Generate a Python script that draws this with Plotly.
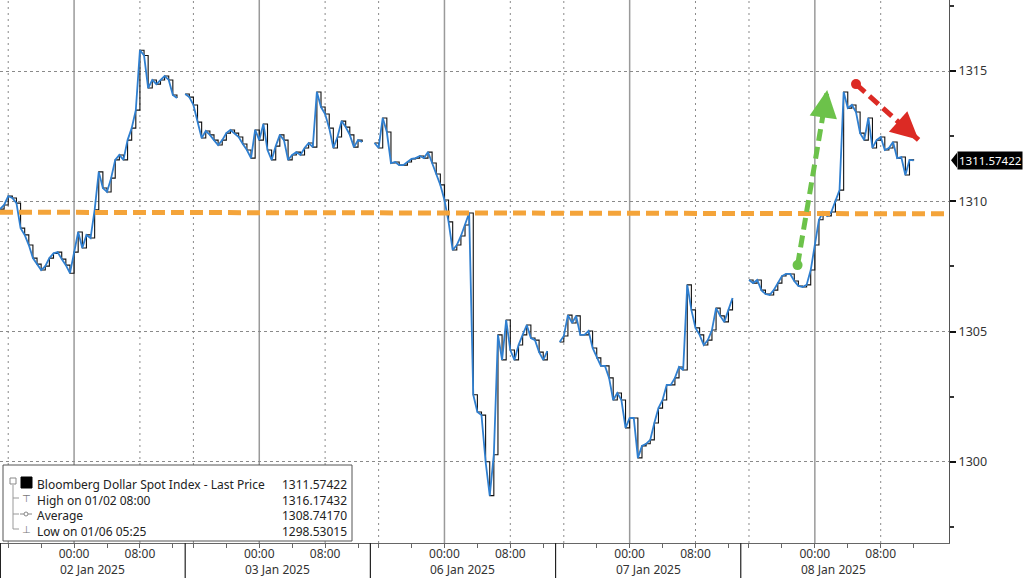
import plotly.graph_objects as go

# ---------------- data ----------------
day_labels = ["02 Jan 2025", "03 Jan 2025", "06 Jan 2025", "07 Jan 2025", "08 Jan 2025"]
session_hours = 22.5          # each trading session shown (15:00 prev day -> 13:30)
step_hours = 0.5              # spacing of sampled closes
tick_offsets = [1, 5, 9, 13, 17, 21]          # 16:00 20:00 00:00 04:00 08:00 12:00
tick_names = ["", "", "00:00", "", "08:00", ""]
solid_grid_offsets = [9]      # 00:00
dotted_grid_offsets = [1, 17] # 16:00, 08:00

jan02 = [1309.70, 1309.86, 1310.20, 1310.13, 1309.93, 1308.97, 1308.71, 1308.32, 1307.82, 1307.59,
         1307.36, 1307.51, 1307.82, 1308.00, 1308.05, 1307.78, 1307.55, 1307.24, 1308.05, 1308.82,
         1308.21, 1308.71, 1308.59, 1309.67, 1311.13, 1310.51, 1310.36, 1310.89, 1311.59, 1311.78,
         1311.59, 1312.35, 1312.81, 1313.50, 1315.80, 1315.60, 1314.35, 1314.66, 1314.50, 1314.66,
         1314.81, 1314.66, 1314.08, 1313.97, None, None]
jan03 = [1314.12, 1314.00, 1313.70, 1313.04, 1312.43, 1312.70, 1312.55, 1312.35, 1312.16, 1312.35,
         1312.62, 1312.74, 1312.62, 1312.47, 1312.20, 1311.97, 1311.66, 1312.74, 1312.35, 1312.97,
         1311.97, 1311.59, 1312.12, 1312.55, 1312.35, 1311.59, 1311.78, 1311.89, 1311.78, 1312.05,
         1312.24, 1312.08, 1314.20, 1313.62, 1313.35, 1312.81, 1312.05, 1312.47, 1313.08, 1312.85,
         1312.55, 1312.08, 1312.35, 1312.28, None, None]
jan06 = [None, 1312.24, 1312.05, 1313.20, 1312.66, 1311.47, 1311.51, 1311.39, 1311.39, 1311.51,
         1311.63, 1311.66, 1311.74, 1311.66, 1311.89, 1311.47, 1311.05, 1310.63, 1310.05, 1309.21,
         1308.13, 1308.32, 1308.67, 1309.09, 1309.55, 1302.57, 1301.91, 1301.79, 1300.00, 1298.70,
         1300.27, 1304.87, 1303.91, 1305.44, 1304.29, 1303.91, 1304.48, 1304.87, 1305.25, 1304.75,
         1304.67, 1304.21, 1303.91, 1304.25, None, None]
jan07 = [None, 1304.60, 1304.83, 1305.63, 1305.33, 1305.60, 1304.87, 1304.87, 1305.02, 1304.37,
         1303.99, 1303.68, 1303.68, 1303.22, 1302.37, 1302.64, 1302.37, 1301.30, 1301.68, 1301.68,
         1300.15, 1300.61, 1300.69, 1300.84, 1301.49, 1302.06, 1302.37, 1302.95, 1302.95, 1303.22,
         1303.64, 1303.52, 1306.79, 1305.83, 1305.14, 1304.87, 1304.48, 1304.67, 1305.06, 1305.90,
         1305.60, 1305.37, 1305.83, 1306.29, None, None]
jan08 = [None, None, 1306.98, 1306.86, 1306.98, 1306.59, 1306.44, 1306.40, 1306.59, 1306.86,
         1307.13, 1307.21, 1307.21, 1306.94, 1306.75, 1306.71, 1306.79, 1307.36, 1308.32, 1309.29,
         1309.59, 1309.44, 1309.59, 1310.05, 1310.43, 1314.20, 1313.58, 1313.70, 1313.43, 1312.62,
         1312.35, 1313.20, 1312.05, 1312.35, 1312.47, 1311.97, 1312.05, 1312.28, 1311.66, 1311.70,
         1311.01, 1311.59, 1311.57, None, None, None]
sessions = [jan02, jan03, jan06, jan07, jan08]

last_price = 1311.57422
legend_labels = ["Bloomberg Dollar Spot Index - Last Price", "High on 01/02 08:00", "Average", "Low on 01/06 05:25"]
legend_values = ["1311.57422", "1316.17432", "1308.74170", "1298.53015"]
y_ticks = [1300, 1305, 1310, 1315]

# hand-drawn annotations (session-hour, price)
orange_level = [(0.0, 1309.58), (115.3, 1309.52)]
green_arrow = [(96.9, 1307.55), (100.5, 1314.27)]
red_arrow = [(104.0, 1314.50), (111.6, 1312.36)]

# ---------------- build series ----------------
xs, ys = [], []
for d, vals in enumerate(sessions):
    for i, v in enumerate(vals):
        xs.append(d * session_hours + i * step_hours)
        ys.append(v)
    xs.append(None)
    ys.append(None)

FONT = "Noto Sans"
fig = go.Figure()
fig.add_trace(go.Scatter(x=xs, y=ys, mode="lines", line=dict(color="#111111", width=1.1, shape="hv"),
                         hoverinfo="skip", showlegend=False, connectgaps=False))
fig.add_trace(go.Scatter(x=xs, y=ys, mode="lines", line=dict(color="#2f7fd0", width=1.8),
                         hoverinfo="skip", showlegend=False, connectgaps=False))

shapes = []
# vertical grid lines
for d in range(len(sessions)):
    base = d * session_hours
    for off in solid_grid_offsets:
        shapes.append(dict(type="line", xref="x", yref="paper", x0=base + off, x1=base + off, y0=0, y1=1,
                           line=dict(color="#9a9a9a", width=1.5), layer="below"))
    for off in dotted_grid_offsets:
        shapes.append(dict(type="line", xref="x", yref="paper", x0=base + off, x1=base + off, y0=0, y1=1,
                           line=dict(color="#8a8a8a", width=1, dash="2px,4px"), layer="below"))
# day separators below the axis
for d in range(len(sessions)):
    xb = d * session_hours
    shapes.append(dict(type="line", xref="x", yref="paper", x0=xb, x1=xb, y0=0, y1=-0.07,
                       line=dict(color="#222222", width=2 if d == 0 else 1.2)))

# orange level
shapes.append(dict(type="line", xref="x", yref="y", x0=orange_level[0][0], y0=orange_level[0][1],
                   x1=orange_level[1][0], y1=orange_level[1][1],
                   line=dict(color="#f4a43a", width=5, dash="13px,6px")))
# arrows (dashed stems)
for pts, col in [(green_arrow, "#6cc24a"), (red_arrow, "#dc2a24")]:
    shapes.append(dict(type="line", xref="x", yref="y", x0=pts[0][0], y0=pts[0][1], x1=pts[1][0], y1=pts[1][1],
                       line=dict(color=col, width=5, dash="12px,6px")))

# legend box
W, H = 949.0, 543.0
def px(x):
    return x / W
def py(y):
    return 1 - y / H
shapes.append(dict(type="rect", xref="paper", yref="paper", x0=px(3), x1=px(352), y0=py(541), y1=py(465),
                   line=dict(color="#555555", width=1), fillcolor="white"))
shapes.append(dict(type="rect", xref="paper", yref="paper", x0=px(10), x1=px(16), y0=py(484), y1=py(478),
                   line=dict(color="#888888", width=1), fillcolor="white"))
shapes.append(dict(type="rect", xref="paper", yref="paper", x0=px(21), x1=px(32), y0=py(488), y1=py(477),
                   line=dict(color="black", width=1), fillcolor="black"))
shapes.append(dict(type="line", xref="paper", yref="paper", x0=px(13), x1=px(13), y0=py(485), y1=py(529),
                   line=dict(color="#999999", width=1)))
for yy in [498, 514, 529]:
    shapes.append(dict(type="line", xref="paper", yref="paper", x0=px(13), x1=px(19), y0=py(yy), y1=py(yy),
                       line=dict(color="#999999", width=1)))
shapes.append(dict(type="line", xref="paper", yref="paper", x0=px(20), x1=px(32), y0=py(514), y1=py(514),
                   line=dict(color="#888888", width=1)))
shapes.append(dict(type="circle", xref="paper", yref="paper", x0=px(24), x1=px(28), y0=py(516), y1=py(512),
                   line=dict(color="#888888", width=1), fillcolor="white"))
# last price tag pointer
shapes.append(dict(type="path", xref="paper", yref="y",
                   path=f"M {px(951)},{last_price} L {px(957)},{last_price + 0.29} L {px(957)},{last_price - 0.29} Z",
                   fillcolor="black", line=dict(width=0)))

annotations = []
for d, lab in enumerate(day_labels):
    annotations.append(dict(x=d * session_hours + session_hours / 2, y=0, xref="x", yref="paper",
                            text=lab, showarrow=False, yanchor="top", yshift=-16,
                            font=dict(family=FONT, size=12, color="#333333")))
annotations.append(dict(x=px(36), y=py(475), xref="paper", yref="paper", text="<br>".join(legend_labels),
                        showarrow=False, xanchor="left", yanchor="top", align="left", borderpad=0,
                        font=dict(family=FONT, size=12, color="#222222")))
annotations.append(dict(x=px(348), y=py(475), xref="paper", yref="paper", text="<br>".join(legend_values),
                        showarrow=False, xanchor="right", yanchor="top", align="right", borderpad=0,
                        font=dict(family=FONT, size=12, color="#222222")))
for glyph, yy in [("⊤", 498), ("⊥", 529)]:
    annotations.append(dict(x=px(26), y=py(yy), xref="paper", yref="paper", text=glyph, showarrow=False,
                            xanchor="center", yanchor="middle", borderpad=0,
                            font=dict(family="DejaVu Sans", size=10, color="#777777")))
annotations.append(dict(x=1, y=last_price, xref="paper", yref="y", text="1311.57422", showarrow=False,
                        xanchor="left", yanchor="middle", xshift=8, bgcolor="black", borderpad=1,
                        font=dict(family=FONT, size=11.5, color="white")))
# arrow heads
for pts, col, axp, ayp in [(green_arrow, "#6cc24a", -2, 14), (red_arrow, "#dc2a24", -10, -9)]:
    annotations.append(dict(x=pts[1][0], y=pts[1][1], xref="x", yref="y", text="", showarrow=True,
                            ax=axp, ay=ayp, arrowhead=2, arrowsize=1.1, arrowwidth=5, arrowcolor=col))

# start dots of arrows
fig.add_trace(go.Scatter(x=[green_arrow[0][0], red_arrow[0][0]], y=[green_arrow[0][1], red_arrow[0][1]],
                         mode="markers", marker=dict(size=10, color=["#6cc24a", "#dc2a24"]),
                         hoverinfo="skip", showlegend=False))

tickvals, ticktext = [], []
for d in range(len(sessions)):
    for off, name in zip(tick_offsets, tick_names):
        tickvals.append(d * session_hours + off)
        ticktext.append(name)

fig.update_layout(
    width=1024, height=578,
    margin=dict(l=0, r=75, t=0, b=35),
    paper_bgcolor="white", plot_bgcolor="white",
    shapes=shapes, annotations=annotations,
    xaxis=dict(range=[0, 115.3], tickmode="array", tickvals=tickvals, ticktext=ticktext,
               showgrid=False, zeroline=False, showline=True, linecolor="#666666", linewidth=1,
               ticks="outside", ticklen=4, tickcolor="#666666", ticklabelstandoff=-4,
               tickfont=dict(family=FONT, size=12, color="#333333")),
    yaxis=dict(range=[1296.88, 1317.73], side="right", tickmode="array", tickvals=y_ticks,
               showgrid=True, gridcolor="#8a8a8a", griddash="dot", gridwidth=1, zeroline=False,
               showline=True, linecolor="#555555", linewidth=1,
               ticks="outside", ticklen=6, tickwidth=2, tickcolor="#111111",
               tickfont=dict(family=FONT, size=12.5, color="#333333"),
               minor=dict(dtick=2.5, tick0=1300, ticks="outside", ticklen=4, tickcolor="#333333", showgrid=False)),
)

fig.write_html("out.html", config={"displayModeBar": False},
               post_script="document.body.style.margin='0';document.body.style.overflow='hidden';")
